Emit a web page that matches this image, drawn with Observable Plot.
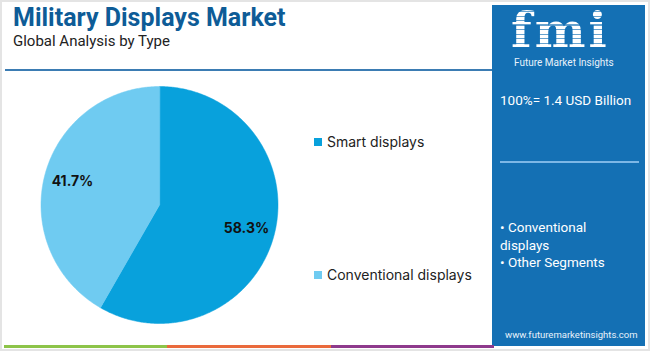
<!DOCTYPE html>
<html>
<head>
<meta charset="utf-8">
<script src="https://cdn.jsdelivr.net/npm/d3@7"></script>
<script src="https://cdn.jsdelivr.net/npm/@observablehq/plot@0.6"></script>
<style>
  html, body { margin: 0; padding: 0; background: #fff; }
  #page { position: relative; width: 650px; height: 351px; overflow: hidden; font-family: Roboto, "Noto Sans", sans-serif; box-sizing: border-box; border: 2px solid #e4e4e4; }
  #title { position: absolute; left: 11px; top: 1px; font-family: Roboto, sans-serif; font-weight: 700; font-size: 25px; color: #0e5c97; white-space: nowrap; }
  #subtitle { position: absolute; left: 11px; top: 30px; font-size: 15px; color: #222; white-space: nowrap; }
  #rule { position: absolute; left: 3px; top: 67px; width: 488px; height: 2px; background: #3b7cb3; }
  #chart { position: absolute; left: -2px; top: 66px; }
  #legend { position: absolute; left: 312px; top: 0; }
  .lg { position: absolute; white-space: nowrap; font-size: 14px; color: #222; display: flex; align-items: center; font-family: Inter, sans-serif; }
  .lg span.sw { display: inline-block; width: 8px; height: 8px; margin-right: 5px; }
  #panel { position: absolute; left: 490px; top: 3px; width: 153px; height: 341px; background: #1470b4; color: #fff; }
  #logo { position: absolute; left: 19px; top: 3px; font-family: "DejaVu Serif", serif; font-weight: 700; font-size: 48px; line-height: 44px; height: 44px; letter-spacing: 3px;
          background: repeating-linear-gradient(#fff 0 3px, rgba(255,255,255,0.35) 3px 4.5px); -webkit-background-clip: text; background-clip: text; color: transparent; }
  #logosub { position: absolute; left: 22px; top: 52px; font-size: 10px; color: #e8f2fb; white-space: nowrap; }
  #total { position: absolute; left: 8px; top: 87px; font-size: 13.5px; white-space: nowrap; }
  #pline { position: absolute; left: 8px; top: 156px; width: 139px; height: 2px; background: #7db7e6; }
  #segs { position: absolute; left: 8px; top: 214px; font-size: 13.5px; line-height: 17.5px; width: 112px; }
  #url { position: absolute; left: 13px; top: 324px; font-size: 9.5px; color: #e8f2fb; white-space: nowrap; }
  #bars { position: absolute; left: 2px; top: 343px; height: 3px; width: 490px; display: flex; }
  #bars div { height: 3px; flex: 1; }
</style>
</head>
<body>
<div id="page">
  <div id="title"></div>
  <div id="subtitle"></div>
  <div id="rule"></div>
  <div id="chart"></div>
  <div id="legend"></div>
  <div id="panel">
    <div id="logo">fmi</div>
    <div id="logosub">Future Market Insights</div>
    <div id="total"></div>
    <div id="pline"></div>
    <div id="segs"></div>
    <div id="url">www.futuremarketinsights.com</div>
  </div>
  <div id="bars"></div>
</div>
<script>
// ---- data ----
const titleText = "Military Displays Market";
const subtitleText = "Global Analysis by Type";
const categories = ["Smart displays", "Conventional displays"];
const shares = [58.3, 41.7];
const sliceColors = ["#08a1dc", "#6fcbf1"];
const totalText = "100%= 1.4 USD Billion";
const otherSegments = ["Conventional displays", "Other Segments"];
const barColors = ["#8dc449", "#ea6a3c", "#8e3a8c"];

// ---- text ----
document.getElementById("title").textContent = titleText;
document.getElementById("subtitle").textContent = subtitleText;
document.getElementById("total").textContent = totalText;
document.getElementById("segs").innerHTML = otherSegments.map(s => "• " + s).join("<br>");
const bars = document.getElementById("bars");
barColors.forEach(c => { const d = document.createElement("div"); d.style.background = c; bars.appendChild(d); });

// ---- legend ----
const legend = document.getElementById("legend");
const legendTops = [131, 264];
categories.forEach((c, i) => {
  const el = document.createElement("div");
  el.className = "lg";
  el.style.top = legendTops[i] + "px";
  el.innerHTML = `<span class="sw" style="background:${sliceColors[i]}"></span>${c}`;
  legend.appendChild(el);
});

// ---- pie geometry via d3.pie, drawn with Plot ----
const W = 300, H = 275, cx = 159, cy = 136.5, R = 118.5;
const pie = d3.pie().sort(null).value(d => d.share);
const rows = categories.map((c, i) => ({category: c, share: shares[i]}));
const arcs = pie(rows);
const pts = [];
for (const a of arcs) {
  pts.push({category: a.data.category, x: 0, y: 0});
  const n = Math.max(2, Math.ceil((a.endAngle - a.startAngle) / 0.01));
  for (let k = 0; k <= n; k++) {
    const t = a.startAngle + (a.endAngle - a.startAngle) * k / n;
    pts.push({category: a.data.category, x: Math.sin(t), y: Math.cos(t)});
  }
}
const labels = arcs.map(a => {
  const m = (a.startAngle + a.endAngle) / 2;
  return {category: a.data.category, x: 0.76 * Math.sin(m), y: 0.76 * Math.cos(m), text: a.data.share.toFixed(1) + "%"};
});

const chart = Plot.plot({
  width: W, height: H, margin: 0,
  style: {background: "transparent", overflow: "visible"},
  x: {domain: [-cx / R, (W - cx) / R], axis: null},
  y: {domain: [-(H - cy) / R, cy / R], axis: null},
  color: {domain: categories, range: sliceColors},
  marks: [
    Plot.line(pts, {x: "x", y: "y", z: "category", fill: "category", stroke: "category", strokeWidth: 0.5, curve: "linear-closed"}),
    Plot.text(labels, {x: "x", y: "y", text: "text", fontSize: 14, fontWeight: 700, fill: "#111", fontFamily: "Inter, sans-serif"})
  ]
});
document.getElementById("chart").appendChild(chart);
</script>
</body>
</html>
